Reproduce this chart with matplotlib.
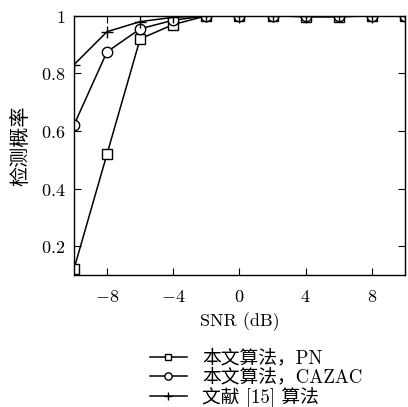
import matplotlib
matplotlib.use('Agg')
import matplotlib.pyplot as plt

# values
snr = [-10, -8, -6, -4, -2, 0, 2, 4, 6, 8, 10]
pd_pn = [0.12, 0.52, 0.92, 0.97, 1.0, 1.0, 1.0, 0.997, 0.997, 1.0, 1.0]
pd_cazac = [0.62, 0.875, 0.955, 0.985, 1.0, 1.0, 1.0, 0.998, 0.998, 1.0, 1.0]
pd_ref15 = [0.83, 0.945, 0.98, 0.995, 1.0, 1.0, 1.0, 0.998, 0.998, 1.0, 1.0]
labels = ['本文算法，PN', '本文算法，CAZAC', '文献 [15] 算法']
xticks = [-8, -4, 0, 4, 8]
xticklabels = ['$-8$', '$-4$', '$0$', '$4$', '$8$']
yticks = [0.2, 0.4, 0.6, 0.8, 1]
yticklabels = ['$0.2$', '$0.4$', '$0.6$', '$0.8$', '$1$']

plt.rcParams['mathtext.fontset'] = 'cm'
fams = ['cmr10', 'Noto Sans CJK SC']

fig = plt.figure(figsize=(4.08, 4.07), dpi=100)
ax = fig.add_axes([0.181, 0.324, 0.812, 0.637])

ax.plot(snr, pd_pn, color='black', lw=1.1, marker='s', ms=6.5, mfc='white', mec='black', mew=1, label=labels[0])
ax.plot(snr, pd_cazac, color='black', lw=1.1, marker='o', ms=7.5, mfc='white', mec='black', mew=1, label=labels[1])
ax.plot(snr, pd_ref15, color='black', lw=1.1, marker='+', ms=8.5, mec='black', mew=1, label=labels[2])

ax.set_xlim(-10, 10)
ax.set_ylim(0.1, 1.0)
ax.set_xticks(xticks)
ax.set_xticklabels(xticklabels)
ax.set_yticks(yticks)
ax.set_yticklabels(yticklabels)
ax.tick_params(direction='in', length=5, width=0.8, labelsize=13, top=True, right=True)
ax.tick_params(axis='x', pad=9)
ax.tick_params(axis='y', pad=6)
for s in ax.spines.values():
    s.set_linewidth(1.0)

ax.set_xlabel('SNR (dB)', family=fams, fontsize=13, labelpad=5)
ax.set_ylabel('检测概率', family=fams, fontsize=14.5, labelpad=8)

leg = ax.legend(loc='upper center', bbox_to_anchor=(0.55, -0.25), frameon=False,
                prop={'family': fams, 'size': 13.5}, handlelength=2.0, labelspacing=0.05,
                handletextpad=0.8, markerscale=0.7, borderpad=0)

fig.savefig('out.png', dpi=100)
